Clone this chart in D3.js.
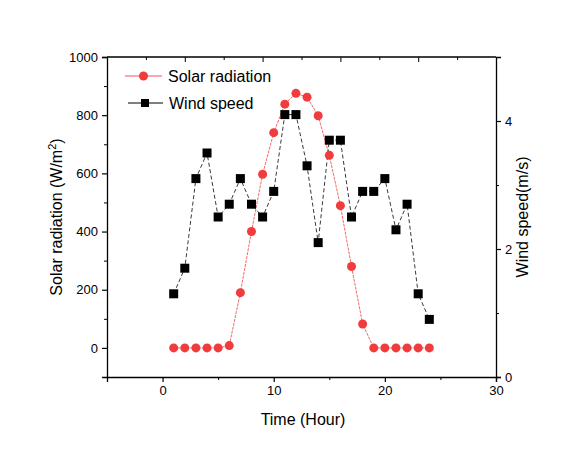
<!DOCTYPE html>
<html>
<head>
<meta charset="utf-8">
<script src="https://cdnjs.cloudflare.com/ajax/libs/d3/7.8.5/d3.min.js"></script>
<style>
  body { margin: 0; background: #fff; }
  text { font-family: "Liberation Sans", Arial, sans-serif; fill: #000; }
</style>
</head>
<body>
<div id="container"></div>
<script>
// Hourly data
const hours = [1, 2, 3, 4, 5, 6, 7, 8, 9, 10, 11, 12, 13, 14, 15, 16, 17, 18, 19, 20, 21, 22, 23, 24];
const solarRadiation = [0, 0, 0, 0, 0, 8, 190, 400, 597, 740, 838, 875, 862, 798, 662, 489, 280, 82, 0, 0, 0, 0, 0, 0];
const windSpeed = [1.3, 1.7, 3.1, 3.5, 2.5, 2.7, 3.1, 2.7, 2.5, 2.9, 4.1, 4.1, 3.3, 2.1, 3.7, 3.7, 2.5, 2.9, 2.9, 3.1, 2.3, 2.7, 1.3, 0.9];
const xTicks = [0, 10, 20, 30];
const leftTicks = [0, 200, 400, 600, 800, 1000];
const rightTicks = [0, 2, 4];

const width = 571;
const height = 450;
const plot = { left: 107, right: 496, top: 57, bottom: 377 };

const svg = d3.select('#container').append('svg')
    .attr('width', width)
    .attr('height', height);

// Scales
const x = d3.scaleLinear().domain([-5, 30]).range([plot.left, plot.right]);
const yLeft = d3.scaleLinear().domain([-100, 1000]).range([plot.bottom, plot.top]);
const yRight = d3.scaleLinear().domain([0, 5]).range([plot.bottom, plot.top]);
const xTop = d3.scaleLinear().domain([0, 10]).range([plot.left, plot.right]);

// Axes (major + minor)
function drawAxis(axisFn, scale, major, minor, transform, showLabels) {
    const g = svg.append('g').attr('transform', transform);
    g.call(axisFn(scale).tickValues(minor).tickSize(3).tickFormat(''));
    g.call(g2 => g2.select('.domain').remove());
    const gm = svg.append('g').attr('transform', transform);
    gm.call(axisFn(scale).tickValues(major).tickSize(5).tickPadding(4)
        .tickFormat(showLabels ? d3.format('d') : ''));
    gm.selectAll('.domain').attr('stroke', '#000').attr('stroke-width', 1.3);
    gm.selectAll('.tick line').attr('stroke-width', 1.2);
    gm.selectAll('text').style('font-size', '13px');
    g.selectAll('.tick line').attr('stroke-width', 1);
    return gm;
}

drawAxis(d3.axisBottom, x, xTicks, [-5, 5, 15, 25], `translate(0,${plot.bottom})`, true);
drawAxis(d3.axisLeft, yLeft, leftTicks, [-100, 100, 300, 500, 700, 900], `translate(${plot.left},0)`, true);
drawAxis(d3.axisRight, yRight, rightTicks, [1, 3, 5], `translate(${plot.right},0)`, true);
// top axis: inward ticks, no labels
const topMinor = svg.append('g').attr('transform', `translate(0,${plot.top})`);
topMinor.call(d3.axisBottom(xTop).tickValues([1, 3, 5, 7, 9]).tickSize(3).tickFormat(''));
topMinor.select('.domain').remove();
const topMajor = svg.append('g').attr('transform', `translate(0,${plot.top})`);
topMajor.call(d3.axisBottom(xTop).tickValues([2, 4, 6, 8]).tickSize(5).tickFormat(''));
topMajor.select('.domain').remove();
svg.append('line')
    .attr('x1', plot.left).attr('x2', plot.right)
    .attr('y1', plot.top).attr('y2', plot.top)
    .attr('stroke', '#000').attr('stroke-width', 1.3);

// Axis titles
svg.append('text')
    .attr('x', 303)
    .attr('y', 425)
    .attr('text-anchor', 'middle')
    .style('font-size', '16px')
    .text('Time (Hour)');

const yl = svg.append('text')
    .attr('transform', `translate(62,${(plot.top + plot.bottom) / 2}) rotate(-90)`)
    .attr('text-anchor', 'middle')
    .style('font-size', '16px');
yl.append('tspan').text('Solar radiation (W/m');
yl.append('tspan').attr('dy', -6).style('font-size', '11px').text('2');
yl.append('tspan').attr('dy', 6).text(')');

svg.append('text')
    .attr('transform', `translate(528,${(plot.top + plot.bottom) / 2}) rotate(-90)`)
    .attr('text-anchor', 'middle')
    .style('font-size', '16px')
    .text('Wind speed(m/s)');

// Series
const solarData = hours.map((h, i) => ({ x: h, y: solarRadiation[i] }));
const windData = hours.map((h, i) => ({ x: h, y: windSpeed[i] }));

svg.append('path')
    .datum(solarData)
    .attr('fill', 'none')
    .attr('stroke', '#f25656')
    .attr('stroke-width', 0.9)
    .attr('stroke-dasharray', '3,1')
    .attr('d', d3.line().x(d => x(d.x)).y(d => yLeft(d.y)));

svg.append('path')
    .datum(windData)
    .attr('fill', 'none')
    .attr('stroke', '#222')
    .attr('stroke-width', 0.9)
    .attr('stroke-dasharray', '4,2.5')
    .attr('d', d3.line().x(d => x(d.x)).y(d => yRight(d.y)));

svg.selectAll('circle.solar')
    .data(solarData)
    .enter().append('circle')
    .attr('class', 'solar')
    .attr('cx', d => x(d.x))
    .attr('cy', d => yLeft(d.y))
    .attr('r', 4.5)
    .attr('fill', '#f03c3c');

svg.selectAll('rect.wind')
    .data(windData)
    .enter().append('rect')
    .attr('class', 'wind')
    .attr('x', d => x(d.x) - 4.5)
    .attr('y', d => yRight(d.y) - 4.5)
    .attr('width', 9)
    .attr('height', 9)
    .attr('fill', '#000');

// Legend
const legend = svg.append('g');
legend.append('line').attr('x1', 125).attr('x2', 162).attr('y1', 76).attr('y2', 76)
    .attr('stroke', '#f25656').attr('stroke-width', 1);
legend.append('circle').attr('cx', 143.5).attr('cy', 76).attr('r', 4.5).attr('fill', '#f03c3c');
legend.append('text').attr('x', 168).attr('y', 81.5).style('font-size', '16px').text('Solar radiation');
legend.append('line').attr('x1', 128).attr('x2', 163).attr('y1', 103).attr('y2', 103)
    .attr('stroke', '#000').attr('stroke-width', 1);
legend.append('rect').attr('x', 141).attr('y', 99).attr('width', 8).attr('height', 8).attr('fill', '#000');
legend.append('text').attr('x', 169).attr('y', 108.5).style('font-size', '16px').text('Wind speed');
</script>
</body>
</html>
